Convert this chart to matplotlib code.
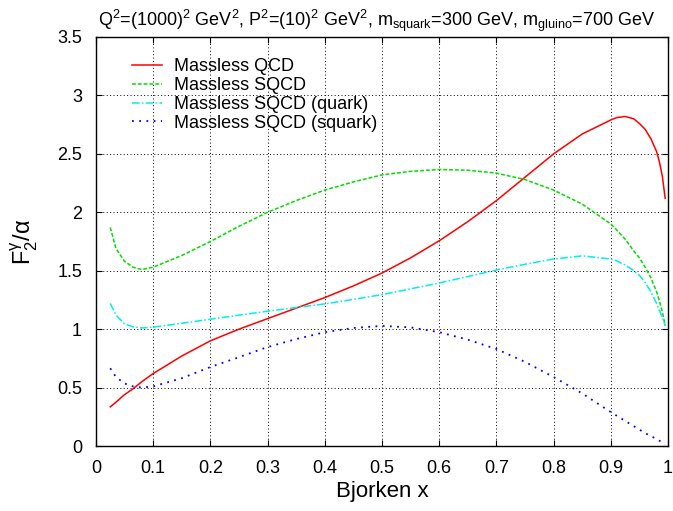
import numpy as np
import matplotlib
matplotlib.use("Agg")
import matplotlib.pyplot as plt

plt.rcParams['font.family'] = ['Liberation Sans', 'DejaVu Sans']
plt.rcParams['mathtext.fontset'] = 'custom'
plt.rcParams['mathtext.rm'] = 'Liberation Sans'
plt.rcParams['mathtext.it'] = 'Liberation Sans'
plt.rcParams['mathtext.default'] = 'regular'

# values
x_bj = [0.025, 0.035, 0.05, 0.065, 0.08, 0.1, 0.15, 0.2, 0.25, 0.3, 0.35, 0.4,
        0.45, 0.5, 0.55, 0.6, 0.65, 0.7, 0.75, 0.8, 0.85, 0.9, 0.91, 0.925,
        0.94, 0.95, 0.96, 0.97, 0.98, 0.985, 0.99, 0.995]
qcd = [0.335, 0.375, 0.44, 0.49, 0.55, 0.62, 0.77, 0.90, 1.00, 1.09, 1.18, 1.27,
       1.37, 1.48, 1.61, 1.756, 1.92, 2.10, 2.30, 2.50, 2.67, 2.79, 2.81, 2.82,
       2.80, 2.76, 2.71, 2.63, 2.52, 2.43, 2.31, 2.12]
sqcd = [1.87, 1.69, 1.58, 1.53, 1.51, 1.53, 1.63, 1.75, 1.88, 2.00, 2.10, 2.19,
        2.26, 2.32, 2.35, 2.366, 2.36, 2.335, 2.28, 2.19, 2.07, 1.90, 1.85, 1.77,
        1.67, 1.61, 1.53, 1.44, 1.32, 1.24, 1.15, 1.03]
sqcd_quark = [1.22, 1.12, 1.045, 1.02, 1.01, 1.017, 1.05, 1.085, 1.12, 1.153, 1.185,
              1.216, 1.255, 1.295, 1.345, 1.395, 1.45, 1.506, 1.555, 1.60, 1.627,
              1.60, 1.585, 1.55, 1.50, 1.46, 1.40, 1.32, 1.22, 1.16, 1.10, 1.03]
sqcd_squark = [0.665, 0.59, 0.535, 0.51, 0.50, 0.51, 0.58, 0.676, 0.76, 0.847, 0.915,
               0.974, 1.01, 1.028, 1.015, 0.974, 0.91, 0.83, 0.72, 0.59, 0.45, 0.29,
               0.26, 0.215, 0.17, 0.14, 0.11, 0.085, 0.06, 0.045, 0.03, 0.015]

labels = ['Massless QCD', 'Massless SQCD', 'Massless SQCD (quark)',
          'Massless SQCD (squark)']
xticks = [0, 0.1, 0.2, 0.3, 0.4, 0.5, 0.6, 0.7, 0.8, 0.9, 1]
yticks = [0, 0.5, 1, 1.5, 2, 2.5, 3, 3.5]

fig = plt.figure(figsize=(6.73, 5.11), dpi=100)
ax = fig.add_axes([0.1426, 0.1272, 0.85, 0.8004])

ax.plot(x_bj, qcd, color='#ff0000', lw=1.1, label=labels[0])
ax.plot(x_bj, sqcd, color='#00dd00', lw=1.1, ls=(0, (2.5, 1.3)), label=labels[1])
ax.plot(x_bj, sqcd_quark, color='#00eeee', lw=1.1, ls=(0, (5, 1.5, 1, 1.5)),
        label=labels[2])
ax.plot(x_bj, sqcd_squark, color='#0000ff', lw=1.3, ls=(0, (1, 3)), label=labels[3])

ax.set_xlim(0, 1)
ax.set_ylim(0, 3.5)
ax.set_xticks(xticks)
ax.set_xticklabels(['0', '0.1', '0.2', '0.3', '0.4', '0.5', '0.6', '0.7', '0.8', '0.9', '1'])
ax.set_yticks(yticks)
ax.set_yticklabels(['0', '0.5', '1', '1.5', '2', '2.5', '3', '3.5'])
ax.tick_params(direction='in', length=4, width=0.8, top=True, right=True,
               labelsize=13, pad=10)
ax.grid(True, color='black', lw=0.7, ls=(0, (1, 2.5)))
for s in ax.spines.values():
    s.set_linewidth(1.0)

ax.set_xlabel('Bjorken x', fontsize=16, labelpad=3)
ax.set_ylabel(r'F$^{\gamma}_{2}$/$\alpha$', fontsize=17)
ax.yaxis.set_label_coords(-0.098, 0.5)
ax.set_title(r'Q$^2$=(1000)$^2$ GeV$^2$, P$^2$=(10)$^2$ GeV$^2$, '
             r'm$_{squark}$=300 GeV, m$_{gluino}$=700 GeV', fontsize=13, pad=8,
             x=0.49)

ax.legend(loc='upper left', bbox_to_anchor=(0.047, 0.97), frameon=False,
          fontsize=13, borderpad=0, handlelength=1.65, handletextpad=0.7,
          labelspacing=0.1)

fig.savefig('out.png', dpi=100)
